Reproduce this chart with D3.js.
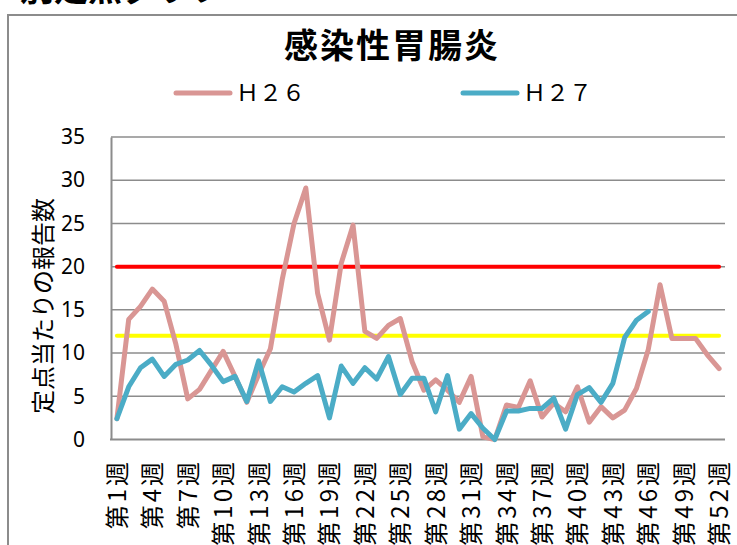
<!DOCTYPE html>
<html>
<head>
<meta charset="utf-8">
<script src="https://cdn.jsdelivr.net/npm/d3@7"></script>
<style>
  body { margin: 0; background: #fff; }
  svg { display: block; }
  text { font-family: "Noto Sans CJK JP", "Noto Sans", sans-serif; }
</style>
</head>
<body>
<svg id="chart"></svg>
<script>
// data
const weeks = [1, 2, 3, 4, 5, 6, 7, 8, 9, 10, 11, 12, 13, 14, 15, 16, 17, 18, 19, 20,
  21, 22, 23, 24, 25, 26, 27, 28, 29, 30, 31, 32, 33, 34, 35, 36, 37, 38, 39, 40,
  41, 42, 43, 44, 45, 46, 47, 48, 49, 50, 51, 52];
const h26 = [2.4, 13.9, 15.4, 17.4, 16.0, 11.0, 4.7, 5.8, 8.0, 10.2, 7.3, 4.3, 7.5,
  10.5, 18.5, 25.0, 29.1, 16.9, 11.5, 20.4, 24.8, 12.5, 11.7, 13.2, 14.0, 9.0,
  5.7, 6.9, 5.7, 4.3, 7.3, 0.3, 0.0, 4.0, 3.7, 6.8, 2.6, 4.2, 3.2, 6.1, 2.0, 3.8,
  2.5, 3.4, 5.9, 10.4, 17.9, 11.7, 11.7, 11.7, 9.8, 8.2];
const h27 = [2.4, 6.1, 8.3, 9.3, 7.3, 8.7, 9.2, 10.3, 8.6, 6.7, 7.3, 4.4, 9.1, 4.4,
  6.1, 5.5, 6.5, 7.4, 2.5, 8.5, 6.5, 8.3, 7.0, 9.6, 5.2, 7.1, 7.1, 3.2, 7.4, 1.2,
  3.0, 1.3, 0.0, 3.3, 3.3, 3.6, 3.6, 4.8, 1.2, 5.2, 6.0, 4.3, 6.5, 11.8, 13.8, 14.8];
const alertLevel = 20;   // 警報レベル
const warnLevel = 12;    // 注意報レベル
const yTicks = [0, 5, 10, 15, 20, 25, 30, 35];
const labelWeeks = [1, 4, 7, 10, 13, 16, 19, 22, 25, 28, 31, 34, 37, 40, 43, 46, 49, 52];
const seriesNames = ["Ｈ２６", "Ｈ２７"];
const colors = ["#d99694", "#4bacc6"];

// init setting
const svg = d3.select("#chart").attr("width", 737).attr("height", 545);
const plot = { left: 111, right: 725, top: 137, bottom: 439.5 };

const x = d3.scalePoint()
    .domain(weeks)
    .range([plot.left, plot.right])
    .padding(0.5);
const y = d3.scaleLinear()
    .domain([0, 35])
    .range([plot.bottom, plot.top]);

// cut-off heading above the frame
svg.append("text")
    .attr("x", 20).attr("y", 1)
    .style("font-size", "34px").style("font-weight", "bold")
    .text("別定点グラフ");

// chart frame
svg.append("rect")
    .attr("x", 8).attr("y", 15)
    .attr("width", 740).attr("height", 540)
    .attr("fill", "none")
    .attr("stroke", "#8c8c8c")
    .attr("stroke-width", 2);

// title
svg.append("text")
    .attr("x", 392).attr("y", 58)
    .attr("text-anchor", "middle")
    .style("font-size", "34px").style("font-weight", "bold")
    .style("letter-spacing", "2px")
    .text("感染性胃腸炎");

// legend
const legend = svg.selectAll(".legend")
    .data(seriesNames)
    .enter().append("g")
    .attr("class", "legend")
    .attr("transform", (d, i) => `translate(${[176, 463][i]}, 93)`);
legend.append("line")
    .attr("x1", 0).attr("x2", 54)
    .attr("stroke", (d, i) => colors[i])
    .attr("stroke-width", 5)
    .attr("stroke-linecap", "round");
legend.append("text")
    .attr("x", 60).attr("y", 8)
    .style("font-size", "23px")
    .text(d => d);

// gridlines
svg.selectAll(".grid")
    .data(yTicks.filter(d => d > 0))
    .enter().append("line")
    .attr("class", "grid")
    .attr("x1", plot.left).attr("x2", plot.right)
    .attr("y1", d => y(d)).attr("y2", d => y(d))
    .attr("stroke", "#8c8c8c")
    .attr("stroke-width", 1.5);

// axes
const yAxis = svg.append("g")
    .attr("transform", `translate(${plot.left},0)`)
    .call(d3.axisLeft(y).tickValues(yTicks).tickSize(0).tickPadding(26));
yAxis.select(".domain").attr("stroke", "#8c8c8c").attr("stroke-width", 2);
yAxis.selectAll("text")
    .style("font-family", "'Noto Sans', sans-serif")
    .style("font-size", "21px")
    .attr("fill", "#000");

svg.append("line")
    .attr("x1", plot.left - 1).attr("x2", plot.right)
    .attr("y1", plot.bottom).attr("y2", plot.bottom)
    .attr("stroke", "#8c8c8c")
    .attr("stroke-width", 2);

// x labels (vertical)
svg.selectAll(".x-label")
    .data(labelWeeks)
    .enter().append("text")
    .attr("class", "x-label")
    .attr("transform", d => `translate(${x(d) + 9},459) rotate(-90)`)
    .attr("text-anchor", "end")
    .style("font-size", "24px")
    .style("letter-spacing", "3px")
    .text(d => `第${d}週`);

// y axis title
svg.append("text")
    .attr("transform", "translate(52,306) rotate(-90)")
    .attr("text-anchor", "middle")
    .style("font-size", "24px")
    .text("定点当たりの報告数");

// reference levels
[[alertLevel, "#ff0000"], [warnLevel, "#ffff00"]].forEach(([v, c]) => {
    svg.append("line")
        .attr("x1", x(weeks[0])).attr("x2", x(weeks[weeks.length - 1]))
        .attr("y1", y(v)).attr("y2", y(v))
        .attr("stroke", c)
        .attr("stroke-width", 4)
        .attr("stroke-linecap", "round");
});

// series lines
const line = d3.line()
    .x((d, i) => x(weeks[i]))
    .y(d => y(d));
[h26, h27].forEach((s, i) => {
    svg.append("path")
        .attr("d", line(s))
        .attr("fill", "none")
        .attr("stroke", colors[i])
        .attr("stroke-width", 5)
        .attr("stroke-linejoin", "round")
        .attr("stroke-linecap", "round");
});
</script>
</body>
</html>
